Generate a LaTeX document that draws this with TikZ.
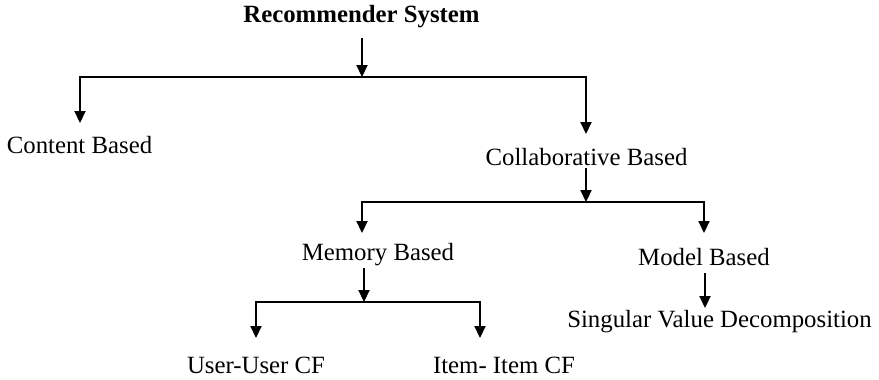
\documentclass[tikz,border=0pt]{standalone}
\usepackage{fontspec}
\setmainfont{Liberation Serif}
\usetikzlibrary{arrows.meta}
\begin{document}
\begin{tikzpicture}[x=1pt,y=-1pt,
  lbl/.style={anchor=base,inner sep=0pt,font=\fontsize{24.8}{28}\selectfont},
  bar/.style={line width=2.2pt,line cap=rect},
  arr/.style={line width=2.2pt,-{Triangle[width=11pt,length=12pt]}}]
\useasboundingbox (0,0) rectangle (879,380);

% labels
\node[lbl,font=\fontsize{24.8}{28}\selectfont\bfseries] (rs) at (361.5,23) {Recommender System};
\node[lbl] (cb)  at (79.5,153)  {Content Based};
\node[lbl] (col) at (586.5,165) {Collaborative Based};
\node[lbl] (mem) at (378,260)   {Memory Based};
\node[lbl] (mod) at (704,265)   {Model Based};
\node[lbl] (svd) at (719.5,327) {Singular Value Decomposition};
\node[lbl] (uu)  at (256,373)   {User-User CF};
\node[lbl] (ii)  at (504,373)   {Item- Item CF};

% junction points
\coordinate (j1) at (362,77);
\coordinate (j2) at (586,202);
\coordinate (j3) at (364,302);

% level 1
\draw[arr] ([yshift=-15pt]rs.base -| j1) -- (j1);
\draw[bar] (80,77) -- (586,77);
\draw[arr] (80,77) -- (80,123);
\draw[arr] (586,77) -- (586,134);

% level 2
\draw[arr] ([yshift=-3pt]col.base -| j2) -- (j2);
\draw[bar] (362,202) -- (704,202);
\draw[arr] (362,202) -- (362,233);
\draw[arr] (704,202) -- (704,233);

% level 3
\draw[arr] ([yshift=-8pt]mem.base -| j3) -- (j3);
\draw[bar] (256,302) -- (480,302);
\draw[arr] (256,302) -- (256,338);
\draw[arr] (480,302) -- (480,338);
\draw[arr] ([yshift=-8pt]mod.base -| 705,0) -- (705,308);
\end{tikzpicture}
\end{document}
